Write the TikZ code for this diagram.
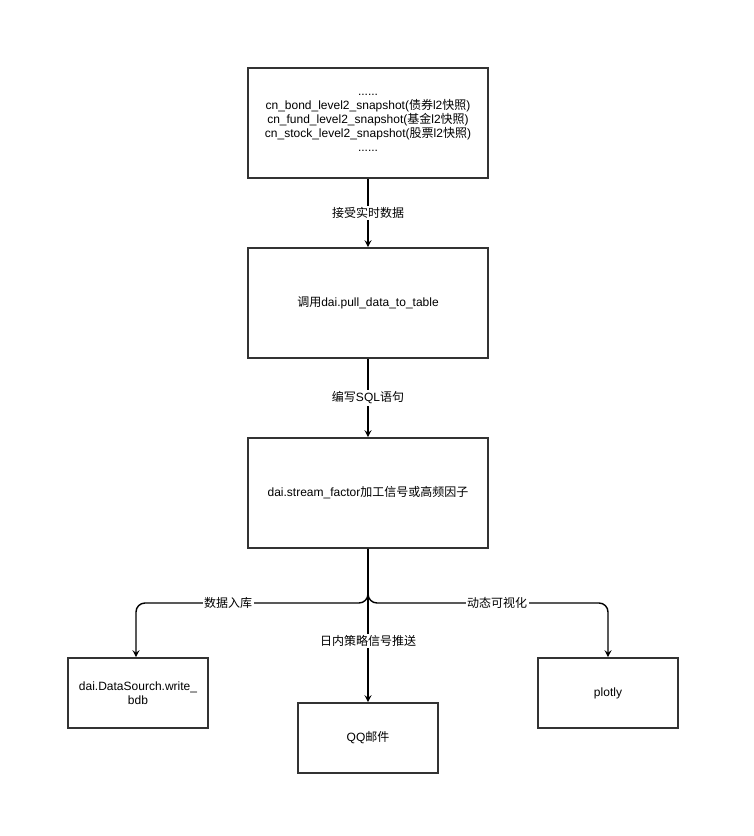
\documentclass[tikz,border=0pt]{standalone}
\usepackage{fontspec}
\setmainfont{Liberation Sans}
\newfontfamily\cjk{Noto Sans CJK SC}
\usetikzlibrary{arrows.meta}
\definecolor{boxline}{HTML}{333333}
\begin{document}
\begin{tikzpicture}[x=1pt,y=-1pt,
  box/.style={draw=boxline,line width=1.6pt,minimum width=240pt,minimum height=110pt,inner sep=0pt,align=center,font=\fontsize{12}{14}\selectfont},
  sbox/.style={draw=boxline,line width=1.6pt,minimum width=140pt,minimum height=70pt,inner sep=0pt,align=center,font=\fontsize{12}{14}\selectfont},
  conn/.style={line width=1.4pt,-{Stealth[length=7pt,width=7pt,inset=2.5pt]}},
  lbl/.style={fill=white,inner sep=1.5pt,font=\fontsize{12}{14}\selectfont}]
\useasboundingbox (0,0) rectangle (754,836);
\node[box] (src) at (368,123) {......\\cn\_bond\_level2\_snapshot({\cjk 债券}l2{\cjk 快照})\\cn\_fund\_level2\_snapshot({\cjk 基金}l2{\cjk 快照})\\cn\_stock\_level2\_snapshot({\cjk 股票}l2{\cjk 快照})\\......};
\node[box] (pull) at (368,303) {{\cjk 调用}dai.pull\_data\_to\_table};
\node[box] (sf) at (368,493) {dai.stream\_factor{\cjk 加工信号或高频因子}};
\node[sbox] (db) at (138,693) {dai.DataSourch.write\_\\bdb};
\node[sbox] (qq) at (368,738) {QQ{\cjk 邮件}};
\node[sbox] (pl) at (608,693) {plotly};
\draw[conn] (src) -- node[lbl]{\cjk 接受实时数据} (pull);
\draw[conn] (pull) -- node[lbl]{{\cjk 编写}SQL{\cjk 语句}} (sf);
\coordinate (j) at (368,603);
\draw[conn,rounded corners=9pt] (sf.south) -- (j) -- (136,603) -- (136,658) -- (db.north -| 136,658);
\draw[conn,rounded corners=9pt] (sf.south) -- (j) -- (608,603) -- (pl.north);
\draw[conn] (sf.south) -- (qq.north);
\node[lbl] (l1) at (228,603) {\cjk 数据入库};
\node[lbl] (l2) at (497,603) {\cjk 动态可视化};
\node[lbl] (l3) at (368,641) {\cjk 日内策略信号推送};
\end{tikzpicture}
\end{document}
